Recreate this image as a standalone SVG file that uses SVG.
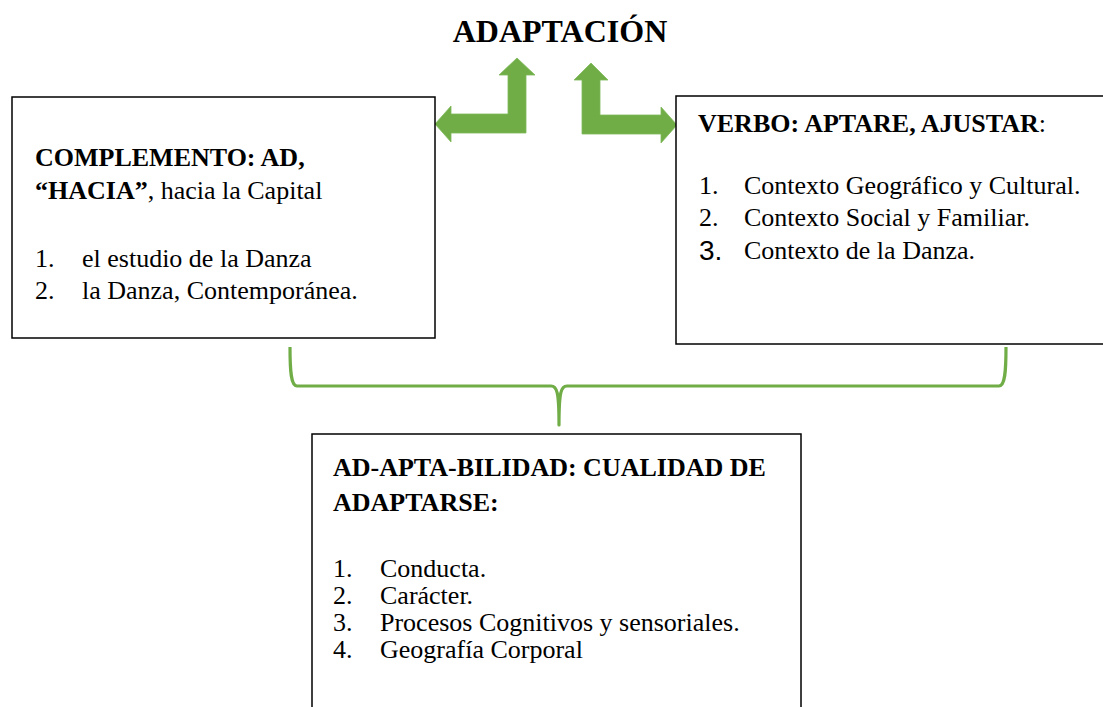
<svg xmlns="http://www.w3.org/2000/svg" width="1103" height="707" viewBox="0 0 1103 707">
<style>
.box{fill:#fff;stroke:#000;stroke-width:1.5}
.t{font-family:"Liberation Serif","Times New Roman",serif;font-size:26px;fill:#000}
.b{font-weight:bold}
.title{font-family:"Liberation Serif","Times New Roman",serif;font-size:32px;font-weight:bold;fill:#000}
.arrow{fill:#70AD47;stroke:#7FBA5A;stroke-width:0.8}
.brace{fill:none;stroke:#70AD47;stroke-width:3.2;stroke-linejoin:round}
.num3{font-family:"Liberation Sans",Arial,sans-serif;font-size:28px;fill:#000}
</style>
<rect width="1103" height="707" fill="#fff"/>
<g id="title">
<text class="title" x="560" y="42" text-anchor="middle">ADAPTACIÓN</text>
</g>
<g id="connectors">
<polygon class="arrow" points="517,58 535,75 526,75 526,133 451,133 451,142 435,124 451,106 451,114 508,114 508,75 499,75"/>
<polygon class="arrow" points="591,63 608,80 600,80 600,115 661,115 661,107 677,125 661,143 661,134 582,134 582,80 574,80"/>
<path class="brace" d="M290,347 C290,372 291,386 297,386 L551,386 C557,386 559,392 559,425 C559,392 561,386 567,386 L999,386 C1005,386 1006,372 1006,347"/>
</g>
<g id="node-complemento">
<rect class="box" x="12" y="97" width="423" height="241"/>
<text class="t b" x="35" y="166">COMPLEMENTO: AD,</text>
<text class="t" x="35" y="199"><tspan class="b">“HACIA”</tspan>, hacia la Capital</text>
<text class="t" x="35" y="267">1.</text>
<text class="t" x="82" y="267">el estudio de la Danza</text>
<text class="t" x="35" y="299">2.</text>
<text class="t" x="82" y="299">la Danza, Contemporánea.</text>
</g>
<g id="node-verbo">
<rect class="box" x="676" y="96" width="440" height="248"/>
<text class="t b" x="698" y="132">VERBO: APTARE, AJUSTAR<tspan font-weight="normal">:</tspan></text>
<text class="t" x="699" y="194">1.</text>
<text class="t" x="744" y="194">Contexto Geográfico y Cultural.</text>
<text class="t" x="699" y="226">2.</text>
<text class="t" x="744" y="226">Contexto Social y Familiar.</text>
<text class="num3" x="699" y="260">3.</text>
<text class="t" x="744" y="259">Contexto de la Danza.</text>
</g>
<g id="node-adaptabilidad">
<rect class="box" x="312" y="434" width="489" height="300"/>
<text class="t b" x="333" y="476">AD-APTA-BILIDAD: CUALIDAD DE</text>
<text class="t b" x="333" y="511">ADAPTARSE:</text>
<text class="t" x="333" y="577">1.</text>
<text class="t" x="380" y="577">Conducta.</text>
<text class="t" x="333" y="604">2.</text>
<text class="t" x="380" y="604">Carácter.</text>
<text class="t" x="333" y="631">3.</text>
<text class="t" x="380" y="631">Procesos Cognitivos y sensoriales.</text>
<text class="t" x="333" y="658">4.</text>
<text class="t" x="380" y="658">Geografía Corporal</text>
</g>
</svg>
